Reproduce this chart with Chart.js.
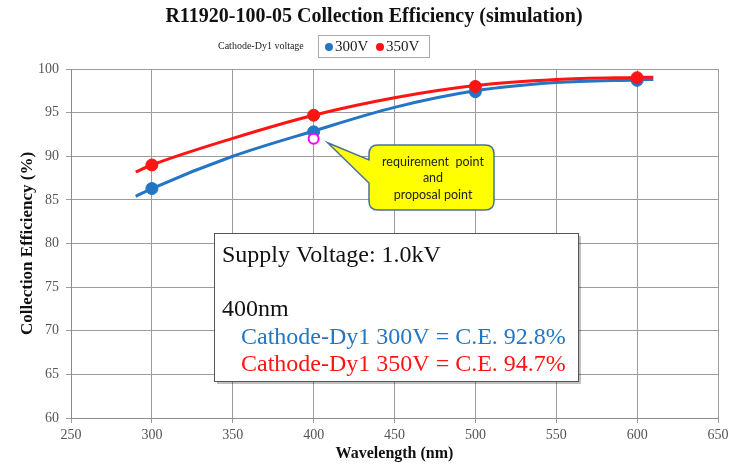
<!DOCTYPE html>
<html>
  <head>
    <title>R11920-100-05 Collection Efficiency</title>
    <script src="https://cdn.jsdelivr.net/npm/chart.js@4.4.0/dist/chart.umd.min.js"></script>
    <style>
      body { margin: 0; background: #fff; }
      #wrap { width: 737px; height: 465px; }
    </style>
  </head>
  <body>
    <div id="wrap"><canvas id="chart" width="737" height="465"></canvas></div>

    <script type="text/javascript">

      // measured points
      const waves = [300, 400, 500, 600];
      const ce300 = [86.3, 92.8, 97.4, 98.7];
      const ce350 = [89.0, 94.7, 98.0, 99.0];

      // fitted curves
      const curveWaves = [290, 300, 350, 400, 450, 500, 550, 600, 610];
      const curve300 = [85.4, 86.3, 90.0, 92.9, 95.6, 97.5, 98.45, 98.75, 98.8];
      const curve350 = [88.2, 89.0, 92.05, 94.7, 96.7, 98.1, 98.8, 99.03, 99.06];

      // requirement / proposal point
      const reqWave = [400];
      const reqCE = [92.0];

      const xTicks = [250, 300, 350, 400, 450, 500, 550, 600, 650];
      const yTicks = [60, 65, 70, 75, 80, 85, 90, 95, 100];

      const BLUE = '#2475c3';
      const RED = '#ff1414';
      const serif = '"Liberation Serif", "Times New Roman", serif';

      function pts(xs, ys) {
        return xs.map((x, i) => ({x: x, y: ys[i]}));
      }

      // title, legend, info box and callout
      const extras = {
        id: 'extras',
        afterDatasetsDraw(chart) {
          const ctx = chart.ctx;
          const xs = chart.scales.x;
          const ys = chart.scales.y;
          ctx.save();

          // title
          ctx.fillStyle = '#111';
          ctx.font = 'bold 20px ' + serif;
          ctx.textAlign = 'center';
          ctx.textBaseline = 'middle';
          ctx.fillText('R11920-100-05 Collection Efficiency (simulation)', 374, 17);

          // legend
          ctx.font = '10px ' + serif;
          ctx.textAlign = 'left';
          ctx.fillStyle = '#222';
          ctx.fillText('Cathode-Dy1 voltage', 218, 46);
          ctx.strokeStyle = '#aaa';
          ctx.lineWidth = 1;
          ctx.strokeRect(318.5, 35.5, 111, 22);
          ctx.font = '15px ' + serif;
          ctx.fillStyle = BLUE;
          ctx.beginPath(); ctx.arc(329, 47, 4, 0, Math.PI * 2); ctx.fill();
          ctx.fillStyle = '#222';
          ctx.fillText('300V', 335, 47);
          ctx.fillStyle = RED;
          ctx.beginPath(); ctx.arc(380, 47, 4, 0, Math.PI * 2); ctx.fill();
          ctx.fillStyle = '#222';
          ctx.fillText('350V', 386, 47);

          // info box
          const bx = 214, by = 233, bw = 364, bh = 148;
          ctx.fillStyle = 'rgba(0,0,0,0.25)';
          ctx.fillRect(bx + 3, by + 3, bw, bh);
          ctx.fillStyle = '#fff';
          ctx.fillRect(bx, by, bw, bh);
          ctx.strokeStyle = '#555';
          ctx.strokeRect(bx + 0.5, by + 0.5, bw, bh);
          ctx.textBaseline = 'alphabetic';
          ctx.font = '24px ' + serif;
          ctx.fillStyle = '#111';
          ctx.fillText('Supply Voltage: 1.0kV', 222, 262);
          ctx.fillText('400nm', 222, 316);
          ctx.fillStyle = BLUE;
          ctx.fillText('Cathode-Dy1 300V = C.E. 92.8%', 241, 344);
          ctx.fillStyle = RED;
          ctx.fillText('Cathode-Dy1 350V = C.E. 94.7%', 241, 371);

          // callout
          const px = xs.getPixelForValue(reqWave[0]);
          const py = ys.getPixelForValue(reqCE[0]);
          const tipX = px + 14, tipY = py + 4;
          const cx = 369, cy = 145, cw = 125, ch = 65, r = 9;
          ctx.beginPath();
          ctx.moveTo(cx + r, cy);
          ctx.lineTo(cx + cw - r, cy);
          ctx.quadraticCurveTo(cx + cw, cy, cx + cw, cy + r);
          ctx.lineTo(cx + cw, cy + ch - r);
          ctx.quadraticCurveTo(cx + cw, cy + ch, cx + cw - r, cy + ch);
          ctx.lineTo(cx + r, cy + ch);
          ctx.quadraticCurveTo(cx, cy + ch, cx, cy + ch - r);
          ctx.lineTo(cx, cy + 38);
          ctx.lineTo(tipX, tipY);
          ctx.lineTo(cx, cy + 15);
          ctx.lineTo(cx, cy + r);
          ctx.quadraticCurveTo(cx, cy, cx + r, cy);
          ctx.closePath();
          ctx.fillStyle = '#ffff00';
          ctx.fill();
          ctx.strokeStyle = '#4a6f95';
          ctx.lineWidth = 1.5;
          ctx.stroke();
          ctx.fillStyle = '#222';
          ctx.font = '12.5px Lato, "Open Sans", sans-serif';
          ctx.textAlign = 'center';
          ctx.fillText('requirement  point', 433, 166);
          ctx.fillText('and', 433, 182);
          ctx.fillText('proposal point', 433, 199);

          ctx.restore();
        }
      };

      const ctx = document.getElementById('chart').getContext('2d');

      const myChart = new Chart(ctx, {
        type: 'scatter',
        data: {
          datasets: [
            {
              label: 'req',
              data: pts(reqWave, reqCE),
              pointRadius: 5,
              pointBorderWidth: 2,
              pointBorderColor: '#ff00ff',
              pointBackgroundColor: '#ffffff',
              showLine: false,
              order: 0
            },
            {
              label: '350V',
              data: pts(waves, ce350),
              pointRadius: 6,
              pointBackgroundColor: RED,
              pointBorderColor: RED,
              showLine: false,
              order: 1
            },
            {
              label: '300V',
              data: pts(waves, ce300),
              pointRadius: 6,
              pointBackgroundColor: BLUE,
              pointBorderColor: BLUE,
              showLine: false,
              order: 2
            },
            {
              label: '350V fit',
              data: pts(curveWaves, curve350),
              showLine: true,
              borderColor: RED,
              borderWidth: 3,
              pointRadius: 0,
              cubicInterpolationMode: 'monotone',
              order: 3
            },
            {
              label: '300V fit',
              data: pts(curveWaves, curve300),
              showLine: true,
              borderColor: BLUE,
              borderWidth: 3,
              pointRadius: 0,
              cubicInterpolationMode: 'monotone',
              order: 4
            }
          ]
        },
        options: {
          responsive: false,
          animation: false,
          layout: { padding: { top: 69, right: 19, left: 0, bottom: 0 } },
          plugins: {
            legend: { display: false },
            title: { display: false },
            tooltip: { enabled: false }
          },
          scales: {
            x: {
              type: 'linear',
              min: 250,
              max: 650,
              afterBuildTicks: (s) => { s.ticks = xTicks.map(v => ({value: v})); },
              afterFit: (s) => { s.height = 47; },
              grid: { color: '#9c9c9c', lineWidth: 1, tickLength: 5 },
              border: { color: '#8c8c8c' },
              ticks: { color: '#555', font: { family: serif, size: 14 }, padding: 4 },
              title: {
                display: true,
                text: 'Wavelength (nm)',
                color: '#111',
                font: { family: serif, size: 16, weight: 'bold' },
                padding: { top: 0, bottom: 2 }
              }
            },
            y: {
              min: 60,
              max: 100,
              afterBuildTicks: (s) => { s.ticks = yTicks.map(v => ({value: v})); },
              afterFit: (s) => { s.width = 71; },
              grid: { color: '#9c9c9c', lineWidth: 1, tickLength: 5 },
              border: { color: '#8c8c8c' },
              ticks: { color: '#555', font: { family: serif, size: 14 }, padding: 7 },
              title: {
                display: true,
                text: 'Collection Efficiency (%)',
                color: '#111',
                font: { family: serif, size: 17, weight: 'bold' },
                padding: { top: 17, bottom: 0 }
              }
            }
          }
        },
        plugins: [extras]
      });

    </script>
  </body>
</html>
